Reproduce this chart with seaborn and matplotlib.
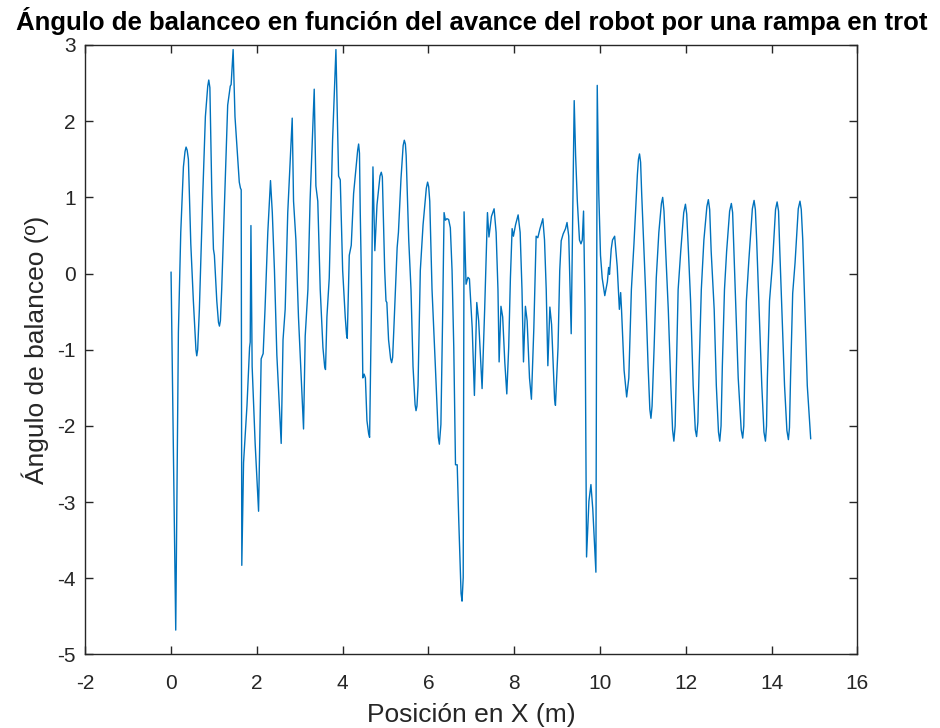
import numpy as np
import pandas as pd
import matplotlib
matplotlib.use("Agg")
import matplotlib.pyplot as plt
import seaborn as sns

# --- data: (posición X [m], ángulo de balanceo [º]) ---
seg1_pts = [(0.000, 0.02), (0.109, -4.68), (0.171, -0.77), (0.226, 0.54), (0.288, 1.40),
            (0.325, 1.60), (0.350, 1.66), (0.375, 1.62), (0.404, 1.50), (0.460, 0.39),
            (0.520, -0.36), (0.580, -1.00), (0.599, -1.08), (0.620, -1.00), (0.660, -0.47),
            (0.740, 1.05), (0.800, 2.06), (0.855, 2.46), (0.879, 2.54), (0.905, 2.44),
            (0.950, 1.05), (0.988, 0.32), (1.010, 0.24), (1.066, -0.36), (1.105, -0.64),
            (1.128, -0.69), (1.150, -0.62), (1.180, -0.21), (1.260, 1.15), (1.320, 2.21),
            (1.380, 2.46), (1.400, 2.48), (1.447, 2.94), (1.490, 2.06), (1.548, 1.55),
            (1.590, 1.20), (1.618, 1.12), (1.635, 1.10), (1.649, -3.83), (1.690, -2.48),
            (1.770, -1.73), (1.830, -0.97), (1.845, -0.90), (1.862, 0.63), (1.890, -1.22),
            (1.960, -2.23), (2.040, -3.12), (2.100, -1.12), (2.147, -1.05), (2.190, -0.47),
            (2.255, 0.54), (2.318, 1.22), (2.360, 0.80), (2.410, 0.04), (2.466, -1.07),
            (2.567, -2.23), (2.610, -0.87), (2.660, -0.47), (2.720, 0.80), (2.824, 2.04),
            (2.855, 0.95), (2.910, 0.44), (2.970, -0.57), (3.088, -2.04), (3.127, -0.82),
            (3.190, -0.21), (3.240, 0.95), (3.337, 2.42), (3.376, 1.15), (3.420, 0.95),
            (3.477, -0.21), (3.540, -0.97), (3.580, -1.22), (3.600, -1.26), (3.633, -0.57),
            (3.687, -0.06), (3.765, 1.75), (3.843, 2.94), (3.905, 1.28), (3.944, 1.23),
            (4.000, 0.04), (4.060, -0.57), (4.090, -0.80), (4.107, -0.85)]

seg2_pts = [(4.154, 0.24), (4.200, 0.37), (4.255, 1.05), (4.350, 1.62), (4.372, 1.70),
            (4.392, 1.58), (4.410, 0.80), (4.450, -0.47), (4.470, -1.37), (4.500, -1.32),
            (4.530, -1.37), (4.566, -1.93), (4.605, -2.10), (4.628, -2.15), (4.670, -0.47),
            (4.706, 1.40), (4.750, 0.30), (4.800, 0.90), (4.870, 1.28), (4.900, 1.33),
            (4.925, 1.27), (4.980, 0.04), (5.010, -0.36), (5.030, -0.38), (5.070, -0.87),
            (5.118, -1.12), (5.142, -1.17), (5.165, -1.10), (5.190, -0.77), (5.270, 0.34),
            (5.300, 0.54), (5.360, 1.25), (5.410, 1.68), (5.437, 1.75), (5.462, 1.70),
            (5.480, 1.55), (5.540, 0.44), (5.593, -0.21), (5.640, -1.22), (5.688, -1.72),
            (5.710, -1.80), (5.732, -1.74), (5.757, -1.47), (5.810, 0.04), (5.874, 0.64),
            (5.950, 1.12), (5.980, 1.20), (6.005, 1.14), (6.030, 0.95), (6.083, -0.21),
            (6.161, -1.22), (6.230, -2.15), (6.254, -2.24), (6.290, -1.98), (6.330, -0.57),
            (6.364, 0.80), (6.395, 0.70), (6.430, 0.72), (6.470, 0.71), (6.510, 0.60),
            (6.550, 0.04), (6.590, -0.97), (6.630, -2.51), (6.670, -2.51), (6.706, -3.24),
            (6.760, -4.20), (6.783, -4.30), (6.810, -3.99), (6.830, 0.81), (6.876, -0.14),
            (6.920, -0.05), (6.955, -0.07), (7.020, -0.72), (7.071, -1.60), (7.126, -0.38),
            (7.170, -0.62), (7.210, -1.07), (7.250, -1.51), (7.310, -0.47), (7.375, 0.80),
            (7.410, 0.48), (7.468, 0.75), (7.530, 0.85), (7.577, 0.54), (7.620, -0.21),
            (7.647, -1.16), (7.690, -0.43), (7.730, -0.57), (7.780, -1.17), (7.826, -1.58),
            (7.870, -0.97), (7.910, -0.06), (7.950, 0.59), (7.980, 0.49), (8.030, 0.64),
            (8.090, 0.77), (8.137, 0.54), (8.180, -0.21), (8.215, -1.16), (8.260, -0.43),
            (8.300, -0.62), (8.355, -1.37), (8.400, -1.65), (8.456, -0.72), (8.510, 0.49),
            (8.549, 0.47), (8.600, 0.59), (8.666, 0.72), (8.705, 0.44), (8.745, -0.21),
            (8.783, -1.21), (8.830, -0.44), (8.870, -0.67), (8.910, -1.22), (8.940, -1.65),
            (8.960, -1.73)]

seg3_pts = [(9.020, -0.97), (9.060, 0.04), (9.094, 0.43), (9.140, 0.52), (9.195, 0.59),
            (9.230, 0.67), (9.270, 0.49), (9.327, -0.79), (9.397, 2.27), (9.430, 1.55),
            (9.470, 0.95), (9.520, 0.44), (9.555, 0.39), (9.585, 0.44), (9.615, 0.82),
            (9.650, -0.47), (9.685, -3.72), (9.740, -2.99), (9.787, -2.77), (9.830, -3.09),
            (9.903, -3.92), (9.934, 2.47), (9.970, 1.05), (10.010, 0.24), (10.050, -0.06),
            (10.110, -0.29), (10.170, -0.11), (10.200, 0.08), (10.220, -0.01), (10.260, 0.32),
            (10.290, 0.44), (10.340, 0.49), (10.400, 0.09), (10.450, -0.47), (10.480, -0.25),
            (10.500, -0.47), (10.560, -1.27), (10.620, -1.62), (10.670, -1.37), (10.730, -0.21),
            (10.790, 0.39), (10.870, 1.30), (10.895, 1.50), (10.920, 1.57), (10.945, 1.46),
            (10.970, 1.05), (11.060, -0.21), (11.120, -1.22), (11.160, -1.78), (11.186, -1.90),
            (11.212, -1.74), (11.260, -0.97), (11.310, -0.06), (11.370, 0.54), (11.430, 0.92),
            (11.460, 1.00), (11.490, 0.82), (11.530, 0.29), (11.590, -0.47), (11.650, -1.47),
            (11.690, -2.05), (11.720, -2.20), (11.750, -2.00), (11.780, -1.22), (11.820, -0.21),
            (11.880, 0.29), (11.950, 0.80), (11.990, 0.91), (12.020, 0.78), (12.060, 0.29),
            (12.110, -0.36), (12.170, -1.47), (12.220, -2.05), (12.250, -2.14), (12.280, -1.95),
            (12.310, -1.22), (12.360, -0.21), (12.420, 0.44), (12.490, 0.88), (12.524, 0.97),
            (12.555, 0.84), (12.590, 0.29), (12.660, -0.47), (12.710, -1.47), (12.760, -2.08),
            (12.790, -2.20), (12.820, -2.00), (12.850, -1.22), (12.900, -0.21), (12.950, 0.29),
            (13.020, 0.82), (13.060, 0.92), (13.090, 0.80), (13.120, 0.29), (13.160, -0.36),
            (13.220, -1.37), (13.290, -2.05), (13.325, -2.16), (13.350, -2.00), (13.370, -1.37),
            (13.410, -0.36), (13.470, 0.19), (13.550, 0.85), (13.590, 0.96), (13.620, 0.84),
            (13.650, 0.44), (13.700, -0.36), (13.770, -1.47), (13.820, -2.08), (13.855, -2.20),
            (13.880, -2.00), (13.900, -1.37), (13.950, -0.36), (14.020, 0.14), (14.090, 0.84),
            (14.127, 0.94), (14.160, 0.82), (14.190, 0.29), (14.230, -0.36), (14.300, -1.47),
            (14.355, -2.06), (14.390, -2.18), (14.415, -2.02), (14.440, -1.37), (14.490, -0.26),
            (14.545, 0.14), (14.620, 0.85), (14.660, 0.95), (14.690, 0.84), (14.725, 0.44),
            (14.770, -0.36), (14.830, -1.47), (14.910, -2.17)]

x_ticks = [-2, 0, 2, 4, 6, 8, 10, 12, 14, 16]
y_ticks = [-5, -4, -3, -2, -1, 0, 1, 2, 3]

title_text = "Ángulo de balanceo en función del avance del robot por una rampa en trot"
xlabel_text = "Posición en X (m)"
ylabel_text = "Ángulo de balanceo (º)"

all_pts = seg1_pts + seg2_pts + seg3_pts
df = pd.DataFrame(all_pts, columns=["x", "y"])

sns.set_theme(style="white")
plt.rcParams["font.family"] = ["Liberation Sans", "DejaVu Sans"]

fig = plt.figure(figsize=(9.4, 7.28), dpi=100)
ax = fig.add_axes([0.0907, 0.1010, 0.8215, 0.8372])

sns.lineplot(data=df, x="x", y="y", sort=False, estimator=None,
             color="#0072BD", linewidth=1.0, ax=ax)

ax.set_xlim(-2, 16)
ax.set_ylim(-5, 3)
ax.set_xticks(x_ticks)
ax.set_yticks(y_ticks)
ax.set_xticklabels([str(t) for t in x_ticks])
ax.set_yticklabels([str(t) for t in y_ticks])
ax.tick_params(direction="in", length=5.5, width=1.0, colors="#262626",
               labelsize=15, top=True, right=True, bottom=True, left=True)
ax.tick_params(axis="x", pad=14)
ax.tick_params(axis="y", pad=7)
for s in ax.spines.values():
    s.set_color("#262626")
    s.set_linewidth(1.0)
    s.set_visible(True)

ax.set_xlabel(xlabel_text, fontsize=19, color="#262626", labelpad=7)
ax.set_ylabel(ylabel_text, fontsize=19, color="#262626", labelpad=6)
ax.set_title(title_text, fontsize=18.5, fontweight="bold", color="black", pad=11)

fig.savefig("out.png", dpi=100, facecolor="white")
